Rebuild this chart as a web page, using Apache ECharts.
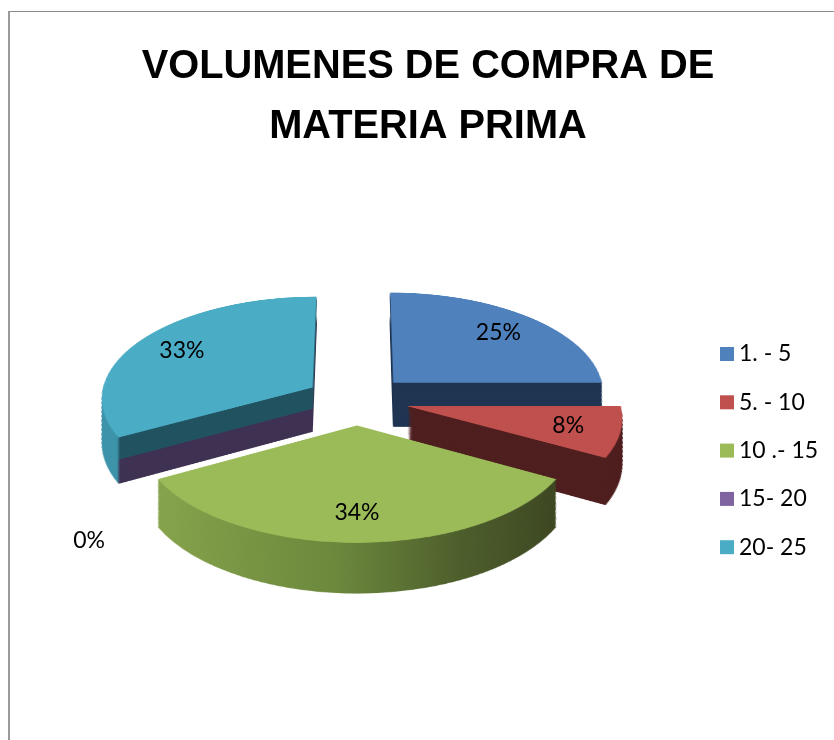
<!DOCTYPE html>
<html>
<head>
<meta charset="utf-8">
<script src="https://cdn.jsdelivr.net/npm/echarts@6/dist/echarts.min.js"></script>
<style>
html, body { margin: 0; padding: 0; background: #ffffff; overflow: hidden; width: 834px; height: 740px; }
#frame { position: absolute; left: 8px; top: 11px; width: 840px; height: 740px; border-left: 2px solid #9a9a9a; border-top: 1px solid #8a8a8a; }
#pie { position: absolute; left: 0; top: 0; width: 834px; height: 1000px; transform-origin: 357px 400px; transform: perspective(2016px) rotateX(61.4deg); }
#main { position: absolute; left: 0; top: 0; width: 834px; height: 740px; }
</style>
</head>
<body>
<div id="frame"></div>
<div id="pie"></div>
<div id="main"></div>
<script>
// ---- data ----
const categories = ['1. - 5', '5. - 10', '10 .- 15', '15- 20', '20- 25'];
const values = [25, 8, 34, 0, 33];
const titleText = 'VOLUMENES DE COMPRA DE\nMATERIA PRIMA';

// ---- style ----
const topColors = ['#4F81BD', '#C0504D', '#9BBB59', '#8064A2', '#4BACC6'];
const CX = 357, CY = 400;          // pie centre (plane) = transform origin
const R = 212;                     // plane radius
const OFFSET = 52;                 // explosion
const DEPTH = 90, N = 45;          // extrusion (plane px), layers
const P = 2016, C = Math.cos(61.4 * Math.PI / 180), S = Math.sin(61.4 * Math.PI / 180);

function lin(stops) {
  return { type: 'linear', x: 0, y: 0, x2: 1, y2: 0, colorStops: stops.map(s => ({ offset: s[0], color: s[1] })) };
}
function sideColor(j, frac) {
  if (j === 0) return '#1f3552';
  if (j === 1) return '#4f1f1f';
  if (j === 2) return lin([[0, '#86a34c'], [0.45, '#6c883c'], [0.75, '#4d5e2c'], [1, '#3d4722']]);
  if (j === 3) return '#3f3151';
  const inner = frac <= 0.5 ? '#215260' : '#3f3151';
  return lin([[0, '#3d93aa'], [0.115, '#3d93aa'], [0.13, inner], [1, inner]]);
}

const pieSeries = [];
function layer(shift, colorFn) {
  const k = (P - shift * S) / P;   // keep the extruded walls vertical under perspective
  return {
    type: 'pie', silent: true, animation: false,
    center: [CX, CY + shift], radius: R * k,
    selectedMode: 'multiple', selectedOffset: OFFSET * k,
    label: { show: false }, labelLine: { show: false },
    itemStyle: { borderWidth: 0 },
    select: { itemStyle: { borderWidth: 0 } },
    data: categories.map((n, j) => ({ name: n, value: values[j], selected: true, itemStyle: { color: colorFn(j) } }))
  };
}
for (let i = N; i >= 1; i--) {
  const frac = i / N;
  pieSeries.push(layer(DEPTH * frac, j => sideColor(j, frac)));
}
pieSeries.push(layer(0, j => topColors[j]));

const pieChart = echarts.init(document.getElementById('pie'), null, { renderer: 'canvas' });
pieChart.setOption({ animation: false, series: pieSeries });

// ---- title, legend, labels (projected onto the tilted pie) ----
function project(p) {
  const r = p.labelRect;
  const u = r.x + r.width / 2 - CX;
  const v = r.y + r.height / 2 - CY;
  const sc = P / (P - v * S);
  return { x: CX + u * sc, y: CY + v * C * sc, align: 'center', verticalAlign: 'middle' };
}

const main = echarts.init(document.getElementById('main'), null, { renderer: 'canvas' });
main.setOption({
  animation: false,
  title: {
    text: titleText, left: 423, top: 32, textAlign: 'center',
    textStyle: { fontFamily: 'Liberation Sans', fontWeight: 'bold', fontSize: 39.8, lineHeight: 60, color: '#000' }
  },
  legend: {
    orient: 'vertical', left: 715, top: 337, itemWidth: 14, itemHeight: 14, itemGap: 24.3, icon: 'rect',
    selectedMode: false,
    textStyle: { fontFamily: 'Lato', fontSize: 23, lineHeight: 24, color: '#000' },
    data: categories.map((n, i) => ({ name: n, itemStyle: { color: topColors[i], opacity: 1 } }))
  },
  series: [{
    type: 'pie', center: [CX, CY], radius: 420, percentPrecision: 0,
    avoidLabelOverlap: false, silent: true,
    itemStyle: { color: 'transparent', borderWidth: 0 },
    label: { show: true, position: 'inside', formatter: '{d}%', fontFamily: 'Lato', fontSize: 23, color: '#000' },
    labelLine: { show: false },
    labelLayout: function (p) {
      if (values[p.dataIndex] === 0) return {};
      return project(p);
    },
    data: categories.map((n, i) => {
      const d = { name: n, value: values[i] };
      if (values[i] === 0) {
        d.label = { position: 'outside', distanceToLabelLine: 0 };
        d.labelLine = { show: false, length: -129, length2: -3 };
      }
      return d;
    })
  }]
});
</script>
</body>
</html>
